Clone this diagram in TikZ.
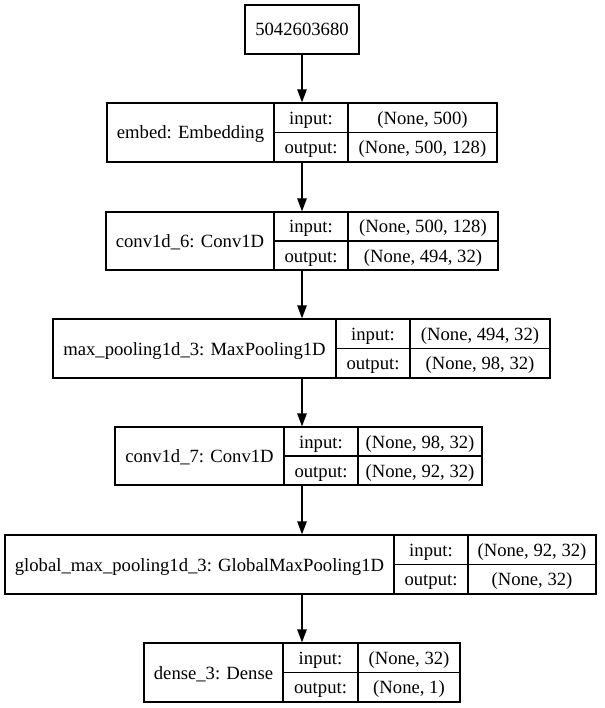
\documentclass[tikz,border=0pt]{standalone}
\usepackage{fontspec}
\setmainfont{Liberation Serif}
\usetikzlibrary{arrows.meta}
\tikzset{
  lbox/.style={draw=black, line width=1.3pt, inner sep=0pt},
  cell/.style={draw=black, line width=1.3pt},
  txt/.style={inner sep=0pt, anchor=base, font=\fontsize{18.67}{22}\selectfont},
  arr/.style={draw=black, line width=1.3pt, -{Triangle[length=13pt,width=9.5pt]}}
}
% name, left, d1, d2, right, top, bottom, label
\newcommand\kerasbox[8]{%
  \node[lbox, minimum width={(#5-#2)*1pt}, minimum height={(#7-#6)*1pt}] (#1) at ({(#2+#5)/2},{(#6+#7)/2}) {};
  \draw[cell] (#3,#6) -- (#3,#7);
  \draw[cell] (#4,#6) -- (#4,#7);
  \draw[cell] (#3,{(#6+#7)/2}) -- (#5,{(#6+#7)/2});
  \node[txt] (#1-name) at ({(#2+#3)/2},{(#6+#7)/2+6.5}) {#8};
  \node[txt] (#1-inl) at ({(#3+#4)/2},{(3*#6+#7)/4+6.5}) {input:};
  \node[txt] (#1-outl) at ({(#3+#4)/2},{(#6+3*#7)/4+6.5}) {output:};
  \coordinate (#1-in) at ({(#4+#5)/2},{(3*#6+#7)/4+6.5});
  \coordinate (#1-out) at ({(#4+#5)/2},{(#6+3*#7)/4+6.5});
}
\begin{document}
\begin{tikzpicture}[x=1pt,y=-1pt]
\useasboundingbox (0,0) rectangle (604,708);
\fill[white] (0,0) rectangle (604,708);

\node[lbox, minimum width=114pt, minimum height=49pt] (top) at (302,29.5) {};
\node[txt] (toplabel) at (302,{29.5+6.5}) {5042603680};

\kerasbox{embed}{107}{274}{348}{497}{103}{162}{embed: Embedding}
\node[txt] at (embed-in) {(None, 500)};
\node[txt] at (embed-out) {(None, 500, 128)};

\kerasbox{conv6}{106}{274}{348}{498}{212}{270}{conv1d\_6: Conv1D}
\node[txt] at (conv6-in) {(None, 500, 128)};
\node[txt] at (conv6-out) {(None, 494, 32)};

\kerasbox{mpool}{53}{336}{410}{550}{319}{378}{max\_pooling1d\_3: MaxPooling1D}
\node[txt] at (mpool-in) {(None, 494, 32)};
\node[txt] at (mpool-out) {(None, 98, 32)};

\kerasbox{conv7}{115}{284}{358}{482}{427}{485}{conv1d\_7: Conv1D}
\node[txt] at (conv7-in) {(None, 98, 32)};
\node[txt] at (conv7-out) {(None, 92, 32)};

\kerasbox{gpool}{5}{394}{468}{596}{535}{594}{global\_max\_pooling1d\_3: GlobalMaxPooling1D}
\node[txt] at (gpool-in) {(None, 92, 32)};
\node[txt] at (gpool-out) {(None, 32)};

\kerasbox{dense}{144}{283}{358}{460}{643}{702}{dense\_3: Dense}
\node[txt] at (dense-in) {(None, 32)};
\node[txt] at (dense-out) {(None, 1)};

\draw[arr] (top.south) -- (top.south |- embed.north);
\draw[arr] (embed.south -| top.south) -- (conv6.north -| top.south);
\draw[arr] (conv6.south -| top.south) -- (mpool.north -| top.south);
\draw[arr] (mpool.south -| top.south) -- (conv7.north -| top.south);
\draw[arr] (conv7.south -| top.south) -- (gpool.north -| top.south);
\draw[arr] (gpool.south -| top.south) -- (dense.north -| top.south);
\end{tikzpicture}
\end{document}
